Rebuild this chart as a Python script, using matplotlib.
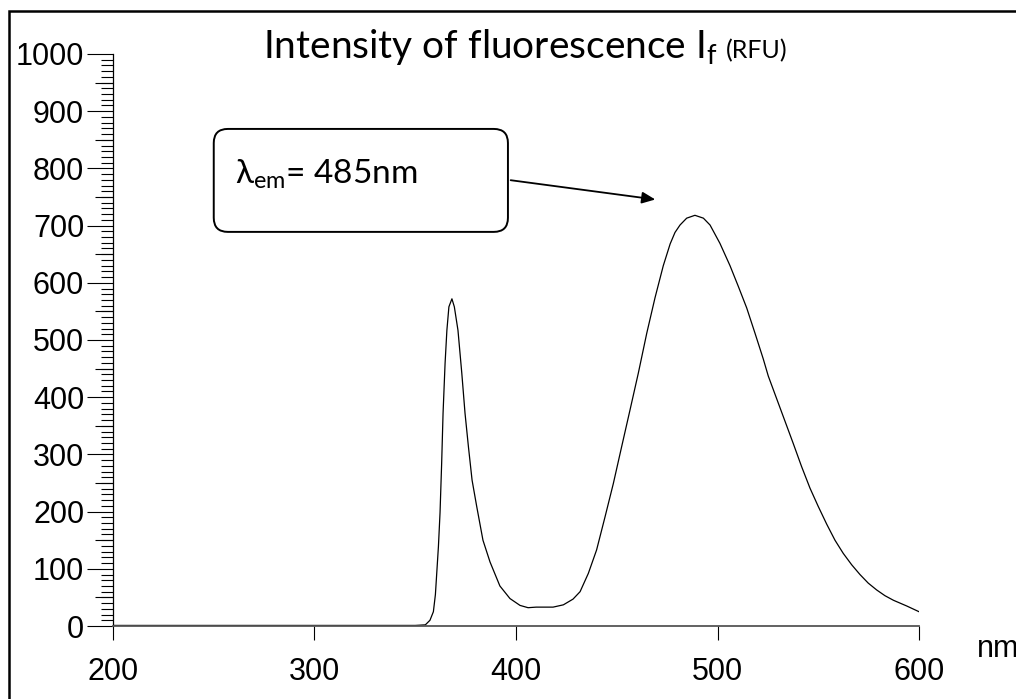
import matplotlib
matplotlib.use("Agg")
import matplotlib.pyplot as plt
from matplotlib.patches import FancyBboxPatch, Rectangle
from matplotlib.ticker import MultipleLocator

# emission spectrum
wavelength = [200, 250, 300, 350, 355, 357.3, 359, 360, 361.5, 362.3, 363.1, 363.8, 364.8,
              365.7, 366.7, 368.2, 369.4, 371.2, 373.1, 374.7, 376.4, 378.2, 380.5, 383.6,
              387.1, 392, 397, 402, 406, 410, 414, 418.4, 423.5, 428.3, 431.8,
              435.9, 440, 444.2, 448.3, 452.4, 456.6, 460.7, 464.9, 469, 473.1, 476.5,
              478.9, 481.4, 484.7, 488.8, 493, 496.3, 501.2, 506.2, 510.3, 514.5, 518.6,
              522.7, 525.2, 529.4, 533.5, 537.6, 541.7, 545.9, 550, 554.2, 558.3, 562.4,
              566.6, 570.7, 574.8, 579, 583.1, 587.3, 593.9, 600]
intensity = [1, 1, 1, 1, 2, 10, 25, 55, 139, 198, 284, 372, 459,
             517, 558, 572, 558, 517, 442, 372, 313, 255, 209, 150,
             112, 70, 48, 36, 32, 33, 33, 33, 37, 47, 60,
             92, 133, 191, 249, 313, 378, 442, 512, 574, 630, 668,
             688, 701, 713, 718, 713, 701, 669, 630, 594, 556, 512,
             467, 437, 397, 358, 319, 279, 241, 209, 178, 150, 127,
             107, 90, 75, 63, 53, 45, 35, 25]

x_ticks = [200, 300, 400, 500, 600]
y_ticks = list(range(0, 1001, 100))
y_mid_ticks = list(range(50, 1000, 100))

title_main = r"Intensity of fluorescence $\mathregular{I_f}$"
title_unit = "(RFU)"
peak_label = r"λ$\mathregular{_{em}}$= 485nm"

plt.rcParams["font.family"] = ["Liberation Sans", "DejaVu Sans"]
plt.rcParams["mathtext.fontset"] = "custom"
plt.rcParams["mathtext.rm"] = "Lato"
plt.rcParams["mathtext.it"] = "Lato:italic"

W, H = 1016, 699
fig = plt.figure(figsize=(W / 100, H / 100), dpi=100)
ax = fig.add_axes([113 / W, 1 - 626 / H, (919 - 113) / W, (626 - 54) / H])

ax.plot(wavelength, intensity, color="black", lw=0.9)
ax.set_xlim(200, 600)
ax.set_ylim(0, 1000)

for s in ["top", "right"]:
    ax.spines[s].set_visible(False)
ax.spines["left"].set_linewidth(0.9)
ax.spines["bottom"].set_color("#555555")
ax.spines["bottom"].set_linewidth(1.3)

ax.set_xticks(x_ticks)
ax.set_yticks(y_ticks)
ax.yaxis.set_minor_locator(MultipleLocator(10))
ax.tick_params(axis="y", which="major", length=18.7, width=0.8, pad=2, labelsize=22)
ax.tick_params(axis="y", which="minor", length=8.6, width=0.8)
ax.tick_params(axis="x", which="major", length=10, width=0.8, pad=12, labelsize=22)

# longer ticks at the 50s
sec = ax.secondary_yaxis("left")
sec.set_yticks(y_mid_ticks)
sec.tick_params(length=13, width=0.8, labelleft=False)
sec.spines["left"].set_visible(False)

# x unit
fig.text(977 / W, 1 - 657 / H, "nm", fontsize=22, va="baseline", ha="left")

# title
t1 = fig.text(263 / W, 1 - 58 / H, title_main, fontsize=28, family="Lato", va="baseline")
fig.canvas.draw()
bb = t1.get_window_extent()
fig.text((bb.x1 + 8) / W, 1 - 58 / H, title_unit, fontsize=18, family="Lato", va="baseline")

# callout box + arrow
box = FancyBboxPatch((250, 689), 146, 180, boxstyle="round,pad=0,rounding_size=7",
                     mutation_aspect=3.52, fc="white", ec="black", lw=1.4, clip_on=False)
ax.add_patch(box)
ax.text(260.5, 773, peak_label, fontsize=24, family=["Lato", "DejaVu Sans"], va="baseline")
ax.annotate("", xy=(470.5, 745), xytext=(396, 780),
            arrowprops=dict(arrowstyle="-|>,head_length=0.8,head_width=0.35", color="black", lw=1.3))

# frame around the figure
fig.add_artist(Rectangle((9 / W, -0.1), 1.2, 1.1 - 11 / H, transform=fig.transFigure,
                         fill=False, ec="black", lw=1.8))

fig.savefig("out.png", dpi=100)
